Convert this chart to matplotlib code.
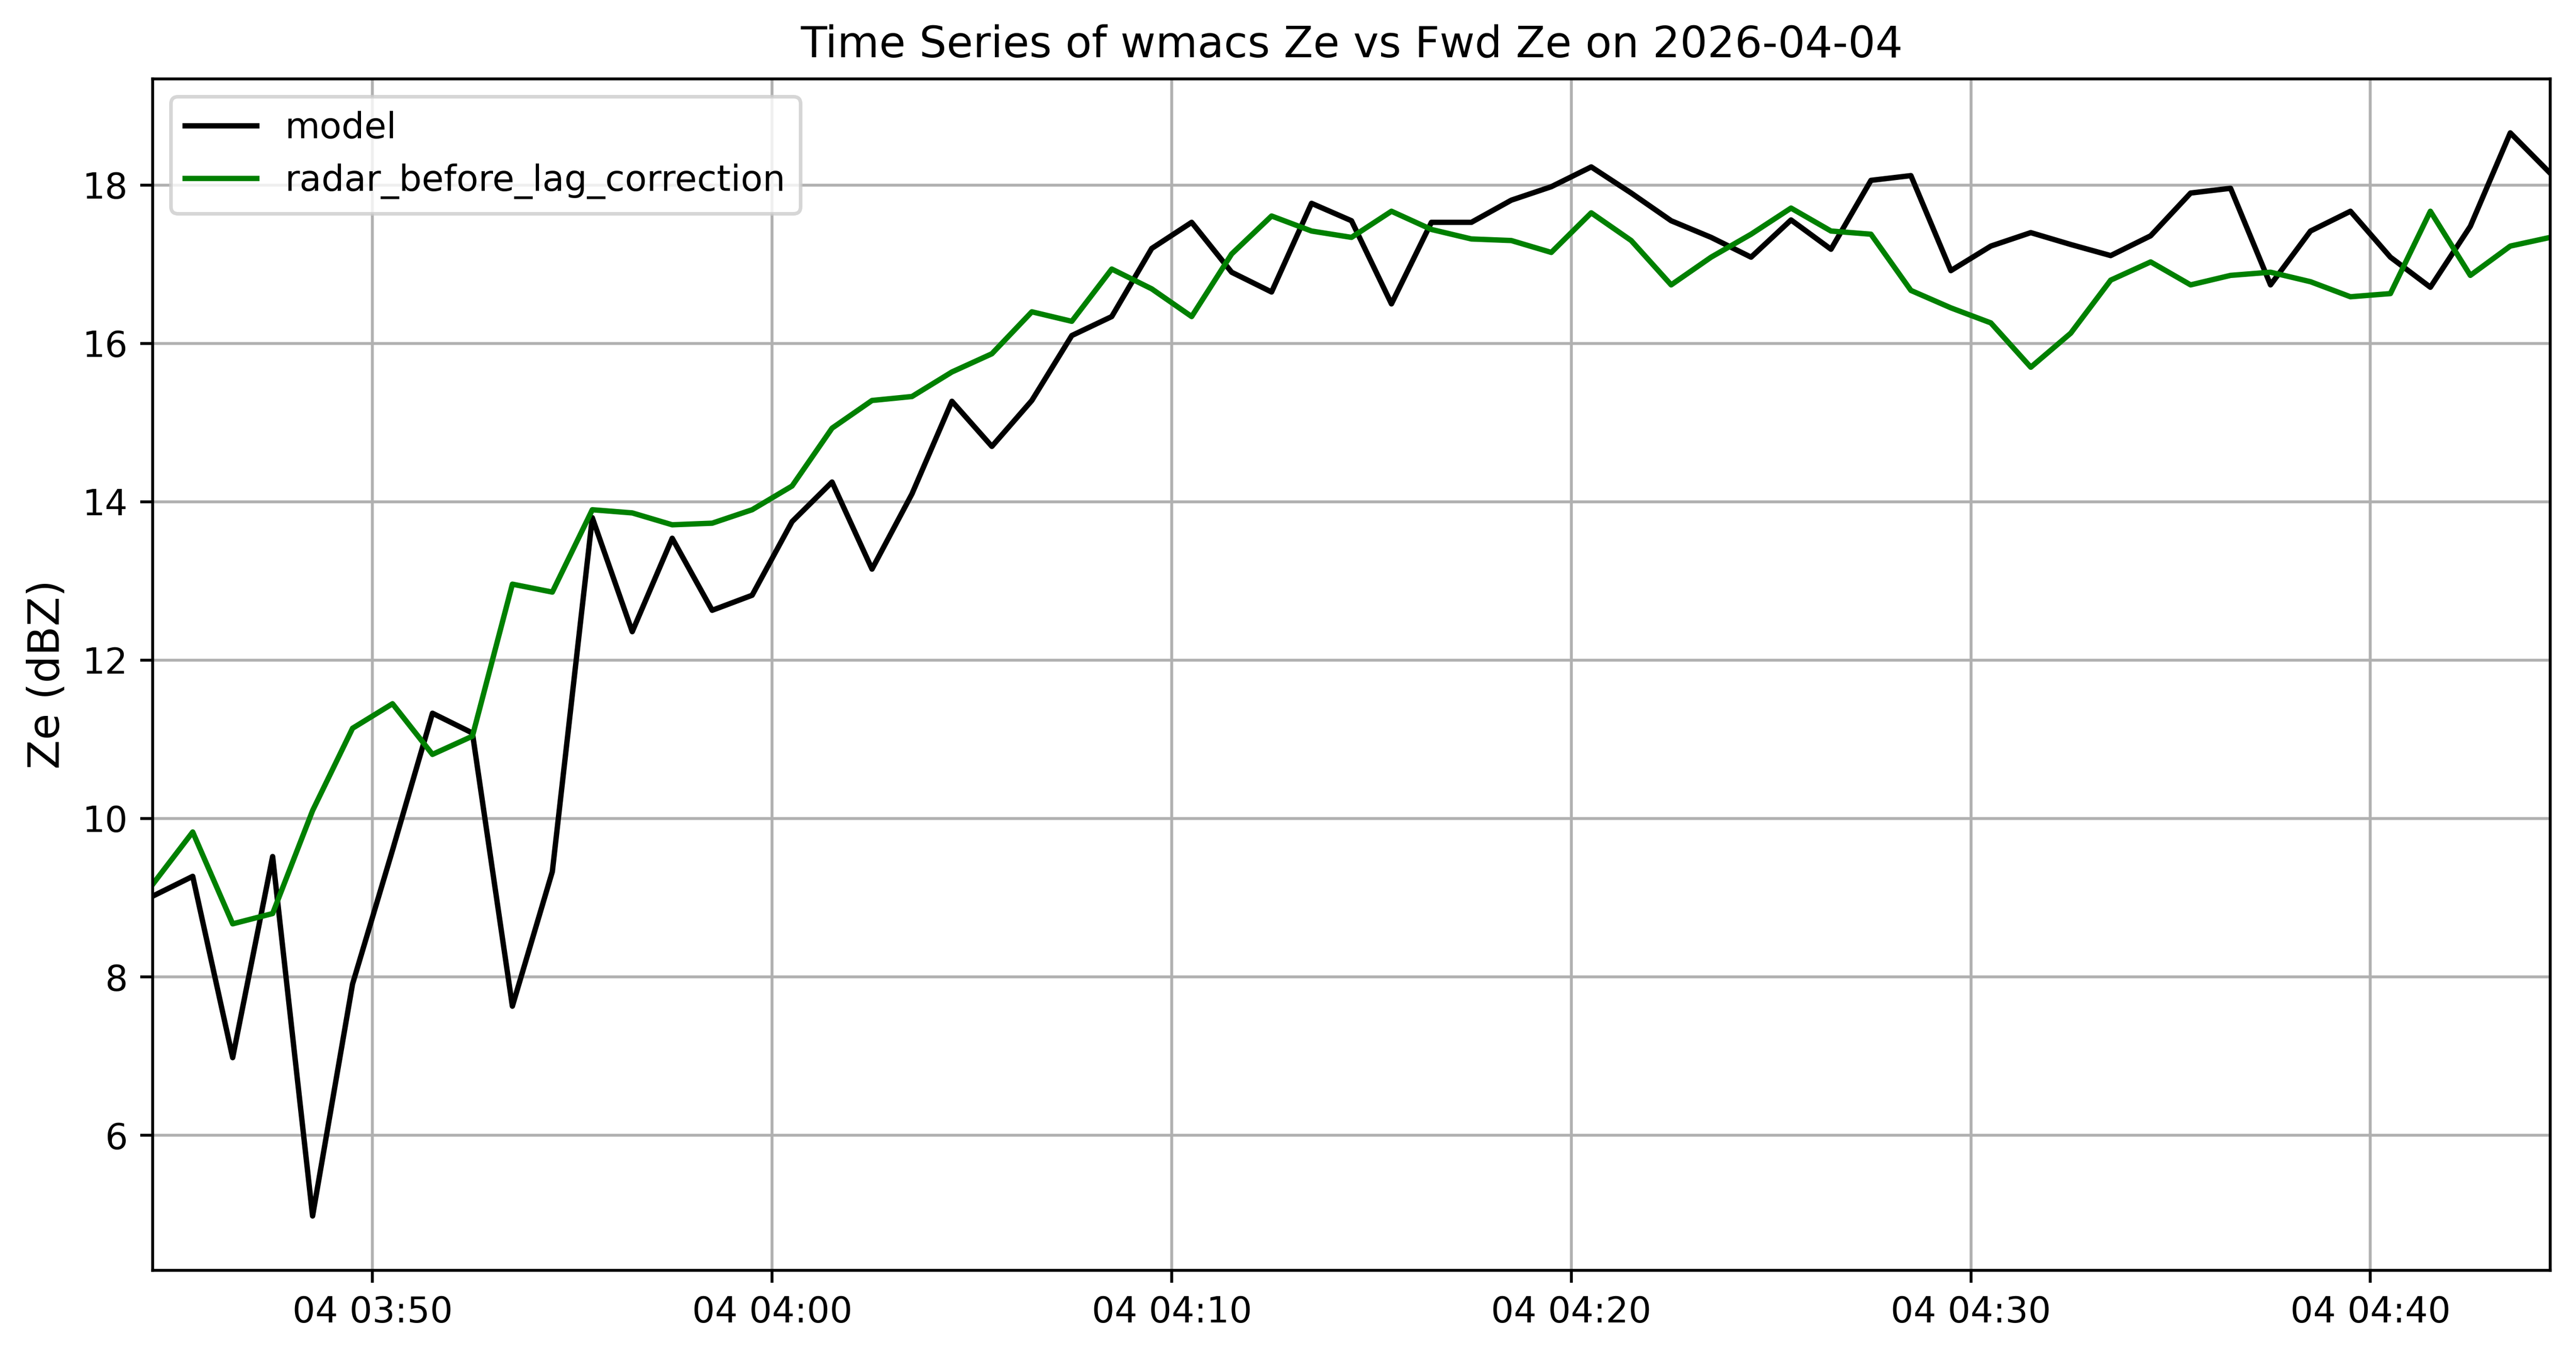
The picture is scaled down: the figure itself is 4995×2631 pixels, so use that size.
import numpy as np
import pandas as pd
import matplotlib
matplotlib.use("Agg")
import matplotlib.pyplot as plt

# one sample per minute, 03:44:30 .. 04:44:30
times = pd.date_range("2026-04-04 03:44:30", periods=61, freq="1min")

model_ze = [
    9.02, 9.27, 6.98, 9.52, 4.98, 7.91, 9.60, 11.33, 11.08, 7.63,
    9.33, 13.80, 12.36, 13.54, 12.63, 12.82, 13.75, 14.25, 13.15, 14.10,
    15.27, 14.70, 15.28, 16.10, 16.34, 17.20, 17.53, 16.90, 16.65, 17.77,
    17.55, 16.50, 17.53, 17.53, 17.81, 17.98, 18.23, 17.90, 17.55, 17.34,
    17.09, 17.56, 17.19, 18.06, 18.12, 16.92, 17.23, 17.40, 17.25, 17.11,
    17.36, 17.90, 17.96, 16.74, 17.42, 17.67, 17.09, 16.71, 17.48, 18.66,
    18.15,
]

radar_ze = [
    9.17, 9.83, 8.67, 8.80, 10.10, 11.14, 11.45, 10.81, 11.04, 12.96,
    12.86, 13.90, 13.86, 13.71, 13.73, 13.90, 14.20, 14.93, 15.28, 15.33,
    15.64, 15.87, 16.40, 16.28, 16.94, 16.69, 16.34, 17.13, 17.61, 17.42,
    17.34, 17.67, 17.44, 17.32, 17.30, 17.15, 17.65, 17.30, 16.74, 17.09,
    17.38, 17.71, 17.42, 17.38, 16.67, 16.45, 16.26, 15.70, 16.13, 16.80,
    17.03, 16.74, 16.86, 16.90, 16.78, 16.59, 16.63, 17.67, 16.86, 17.23,
    17.34,
]

fig, ax = plt.subplots(figsize=(9.99, 5.262))
fig.subplots_adjust(left=0.0593, right=0.990, bottom=0.064, top=0.942)

ax.plot(times, model_ze, color="black", label="model")
ax.plot(times, radar_ze, color="green", label="radar_before_lag_correction")

ax.set_xlim(times[0], times[-1])
ax.set_ylabel("Ze (dBZ)", fontsize=12)
ax.set_title("Time Series of wmacs Ze vs Fwd Ze on 2026-04-04")
ax.grid(True)
ax.legend(loc="upper left")

fig.savefig("out.png", dpi=500)
